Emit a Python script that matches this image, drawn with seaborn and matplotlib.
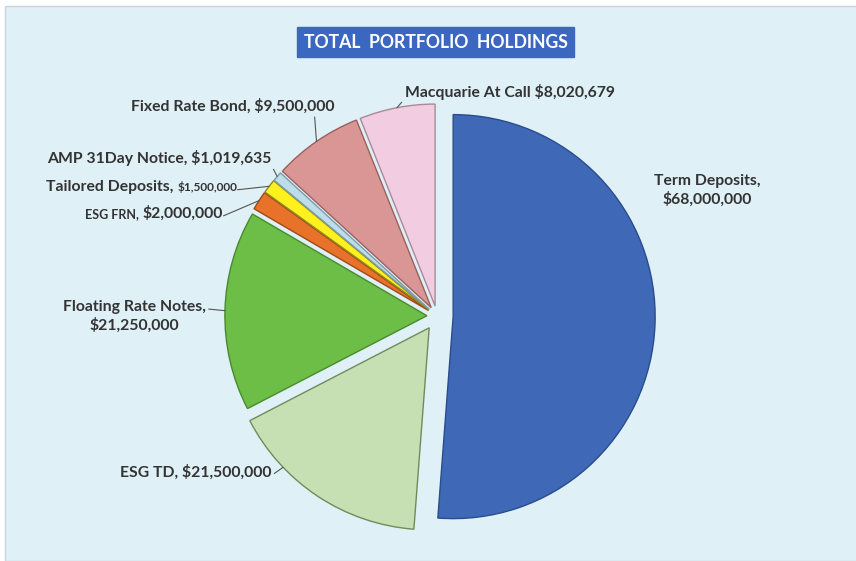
import numpy as np
import matplotlib
matplotlib.use("Agg")
import matplotlib.pyplot as plt
import seaborn as sns
from matplotlib.patches import Rectangle
from matplotlib.offsetbox import TextArea, HPacker, AnnotationBbox

# --- data ---
categories = ["Term Deposits", "ESG TD", "Floating Rate Notes", "ESG FRN",
              "Tailored Deposits", "AMP 31Day Notice", "Fixed Rate Bond",
              "Macquarie At Call"]
holdings = [68000000, 21500000, 21250000, 2000000, 1500000, 1019635,
            9500000, 8020679]

colors = ["#3F69B6", "#C6E0B4", "#6CBE46", "#E8722A", "#FFF11E",
          "#BEDDEB", "#D99694", "#F2CCE0"]
edges = ["#2B4C8C", "#6F8C5A", "#4A8A2E", "#A04A15", "#8C8A1E",
         "#7C9CA8", "#9A6060", "#A88A98"]
explode = [0.08, 0.07, 0.05, 0.05, 0.05, 0.05, 0.05, 0.05]

# --- layout (pixels of the 856x561 canvas) ---
W, H = 856, 561
CX, CY, R = 437, 316, 202


def px(x, y):
    return ((x - CX) / R, (CY - y) / R)


sns.set_theme(style="white")
plt.rcParams["font.family"] = ["Lato", "DejaVu Sans"]

fig = plt.figure(figsize=(W / 100, H / 100), dpi=100)
fig.patch.set_facecolor("white")
fig.patches.append(Rectangle((5 / W, 0), 1, 1 - 6 / H, transform=fig.transFigure,
                             facecolor="#DFF0F7", edgecolor="#C9D5DA",
                             linewidth=1, zorder=-1))

ax = fig.add_axes([0, 0, 1, 1])
ax.set_facecolor("none")

wedges, _ = ax.pie(holdings, colors=colors, explode=explode, startangle=90,
                   counterclock=False, radius=1,
                   wedgeprops=dict(linewidth=1.0))
for w, ec in zip(wedges, edges):
    w.set_edgecolor(ec)

ax.set_xlim(-CX / R, (W - CX) / R)
ax.set_ylim(-(H - CY) / R, CY / R)
ax.set_aspect("equal")
ax.axis("off")


def arc_point(w, frac=0.5):
    ang = np.deg2rad(w.theta1 + frac * (w.theta2 - w.theta1))
    cx, cy = w.center
    return (cx + w.r * np.cos(ang), cy + w.r * np.sin(ang))


FS = 11.3
txt = dict(fontsize=FS, fontweight="bold", color="#333333")
line = dict(arrowstyle="-", color="#555555", lw=0.8, shrinkA=0, shrinkB=0)
fmt = ["${:,.0f}".format(v) for v in holdings]

# Term Deposits (no leader)
ax.text(*px(707, 190), f"{categories[0]},\n{fmt[0]}", ha="center", va="center",
        linespacing=1.3, **txt)

# ESG TD
ax.annotate(f"{categories[1]}, {fmt[1]}", xy=arc_point(wedges[1], 0.28),
            xytext=px(271, 472), ha="right", va="center",
            arrowprops=dict(relpos=(1, 0.25), **line), **txt)

# Floating Rate Notes
ax.annotate(f"{categories[2]},\n{fmt[2]}", xy=arc_point(wedges[2], 0.5),
            xytext=px(134, 316), ha="center", va="center", linespacing=1.3,
            arrowprops=dict(relpos=(1, 0.72), **line), **txt)


def mixed_label(parts, xy, xybox, relpos):
    kids = [TextArea(s, textprops=dict(fontsize=fs, fontweight="bold",
                                       color="#333333")) for s, fs in parts]
    box = HPacker(children=kids, align="baseline", pad=0, sep=3)
    ab = AnnotationBbox(box, xy, xybox=xybox, xycoords="data",
                        boxcoords="data", box_alignment=(1, 0.5),
                        frameon=False, pad=0,
                        arrowprops=dict(relpos=relpos, **line))
    ax.add_artist(ab)


# ESG FRN / Tailored Deposits use two font sizes in the original
mixed_label([(f"{categories[3]},", 9.0), (fmt[3], FS)],
            arc_point(wedges[3], 0.5), px(223, 213), (1, 0.3))
mixed_label([(f"{categories[4]},", FS), (fmt[4], 8.5)],
            arc_point(wedges[4], 0.5), px(237, 187), (1, 0.3))

# AMP 31Day Notice
ax.annotate(f"{categories[5]}, {fmt[5]}", xy=arc_point(wedges[5], 0.5),
            xytext=px(271, 158), ha="right", va="center",
            arrowprops=dict(relpos=(1, 0.1), **line), **txt)

# Fixed Rate Bond
ax.annotate(f"{categories[6]}, {fmt[6]}", xy=arc_point(wedges[6], 0.5),
            xytext=px(233, 106), ha="center", va="center",
            arrowprops=dict(relpos=(0.9, 0), **line), **txt)

# Macquarie At Call
ax.annotate(f"{categories[7]} {fmt[7]}", xy=arc_point(wedges[7], 0.5),
            xytext=px(405, 92), ha="left", va="center",
            arrowprops=dict(relpos=(0, 0.1), **line), **txt)

# title box
fig.text(435.5 / W, 1 - 42 / H, "TOTAL  PORTFOLIO  HOLDINGS", ha="center",
         va="center", color="white", fontsize=12.7, fontweight="bold",
         bbox=dict(boxstyle="square,pad=0.35", facecolor="#3B67C0",
                   edgecolor="#3B67C0"))

fig.savefig("out.png", dpi=100)
